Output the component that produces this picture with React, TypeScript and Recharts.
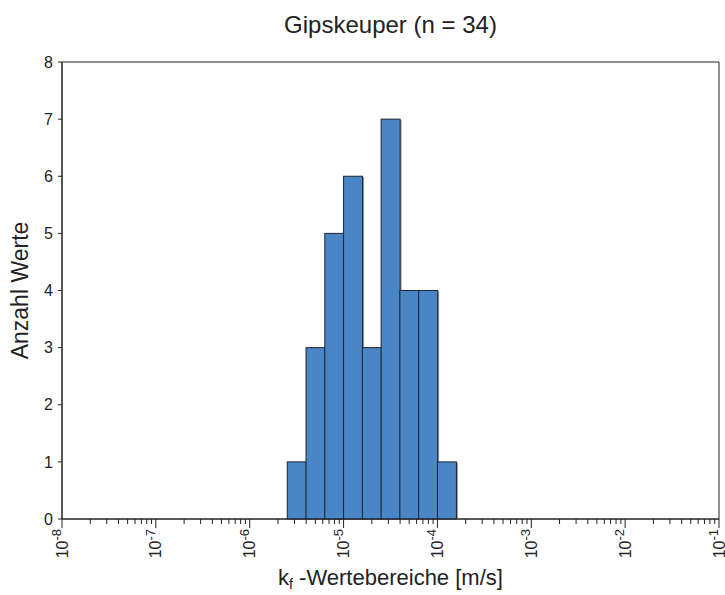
import React from "react";
import { ComposedChart, Bar, XAxis, YAxis, ReferenceArea } from "recharts";

// Histogramm der Durchlässigkeitsbeiwerte, Klassenbreite 0,2 Dekaden
const binLowExp = [-5.6, -5.4, -5.2, -5.0, -4.8, -4.6, -4.4, -4.2, -4.0];
const binCounts = [1, 3, 5, 6, 3, 7, 4, 4, 1];
const BIN_WIDTH = 0.2;

const majorExps = [-8, -7, -6, -5, -4, -3, -2, -1];
const yTicks = [0, 1, 2, 3, 4, 5, 6, 7, 8];

const data = binLowExp.map((lo, i) => ({ x: lo + BIN_WIDTH / 2, count: binCounts[i] }));

// Haupt- und Nebenteilstriche auf der log. Achse (2..9 je Dekade)
const xTicks: number[] = [];
majorExps.forEach((e, i) => {
  xTicks.push(e);
  if (i < majorExps.length - 1) {
    for (let m = 2; m <= 9; m++) xTicks.push(e + Math.log10(m));
  }
});

const FONT = "'Liberation Sans', Arial, Helvetica, sans-serif";
const TEXT = "#222";

const LogTick = (props: any) => {
  const { x, y, payload } = props;
  const v = payload.value;
  const isMajor = majorExps.some((e) => Math.abs(e - v) < 1e-9);
  if (!isMajor) {
    return <line x1={x} x2={x} y1={y} y2={y + 5} stroke="#222" strokeWidth={1} />;
  }
  const ty = y + 10;
  return (
    <g>
      <line x1={x} x2={x} y1={y} y2={y + 9} stroke="#222" strokeWidth={1} />
      <text
        x={x}
        y={ty}
        transform={`rotate(-90, ${x}, ${ty})`}
        textAnchor="end"
        dominantBaseline="central"
        fontFamily={FONT}
        fontSize={16}
        fill={TEXT}
      >
        10
        <tspan fontSize={13} dy={-6}>
          {String(Math.round(v))}
        </tspan>
      </text>
    </g>
  );
};

const BarWithShadow = (props: any) => {
  const { x, y, width, height } = props;
  if (!height) return null;
  return (
    <g>
      <rect x={x + 1.5} y={y + 1} width={width} height={height - 1} fill="#9a9a9a" />
      <rect x={x} y={y} width={width} height={height} fill="#4a86c6" stroke="#1c2330" strokeWidth={1} />
    </g>
  );
};

export default function App() {
  return (
    <div style={{ position: "relative", width: 725, height: 595, background: "#fff" }}>
      <style>{`body{margin:0}`}</style>
      <div
        style={{
          position: "absolute",
          left: 0,
          top: 10,
          width: 781,
          textAlign: "center",
          fontFamily: FONT,
          fontSize: 24,
          color: TEXT,
          lineHeight: "30px",
        }}
      >
        Gipskeuper (n = 34)
      </div>
      <ComposedChart
        width={725}
        height={595}
        data={data}
        margin={{ top: 62, right: 6, left: 12, bottom: 26 }}
        barCategoryGap={0}
        barGap={0}
      >
        <XAxis
          dataKey="x"
          type="number"
          domain={[-8, -1]}
          ticks={xTicks}
          interval={0}
          tickSize={0}
          tickMargin={0}
          tickLine={false}
          tick={<LogTick />}
          height={50}
          axisLine={{ stroke: "#222" }}
          label={{
            content: (p: any) => {
              const vb = p.viewBox;
              return (
                <text
                  x={vb.x + vb.width / 2}
                  y={vb.y + 66}
                  textAnchor="middle"
                  fontFamily={FONT}
                  fontSize={22}
                  fill={TEXT}
                >
                  k
                  <tspan fontSize={14} dy={4}>
                    f
                  </tspan>
                  <tspan dy={-4}> -Wertebereiche [m/s]</tspan>
                </text>
              );
            },
          }}
        />
        <YAxis
          type="number"
          domain={[0, 8]}
          ticks={yTicks}
          interval={0}
          width={50}
          tickSize={4}
          tickMargin={5}
          tickLine={{ stroke: "#222" }}
          axisLine={{ stroke: "#222" }}
          tick={{ fontFamily: FONT, fontSize: 16, fill: TEXT }}
          label={{
            content: (p: any) => {
              const vb = p.viewBox;
              const cx = 20;
              const cy = vb.y + vb.height / 2;
              return (
                <text
                  x={cx}
                  y={cy}
                  transform={`rotate(-90, ${cx}, ${cy})`}
                  textAnchor="middle"
                  dominantBaseline="central"
                  fontFamily={FONT}
                  fontSize={23}
                  fill={TEXT}
                >
                  Anzahl Werte
                </text>
              );
            },
          }}
        />
        <ReferenceArea x1={-8} x2={-1} y1={0} y2={8} fill="none" stroke="#222" strokeWidth={1} ifOverflow="visible" />
        <Bar dataKey="count" isAnimationActive={false} shape={<BarWithShadow />} />
      </ComposedChart>
    </div>
  );
}
